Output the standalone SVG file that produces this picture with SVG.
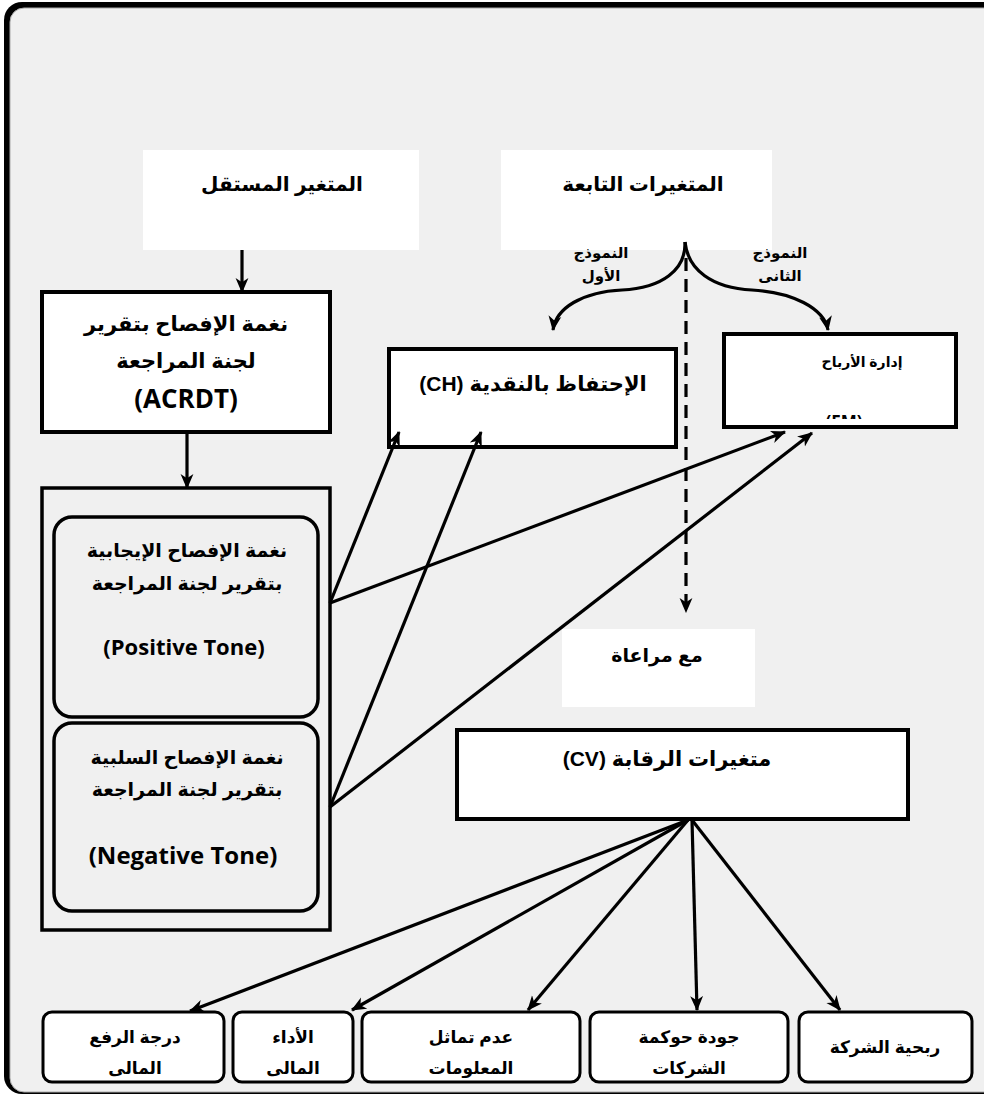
<svg xmlns="http://www.w3.org/2000/svg" width="984" height="1097" viewBox="0 0 984 1097">
<style>
.ar{font-family:"Liberation Sans","DejaVu Sans",sans-serif;font-weight:bold;fill:#000}
.en{font-family:"Open Sans","Liberation Sans",sans-serif;font-weight:bold;fill:#000}
.box{fill:#fff;stroke:#000;stroke-width:4}
.rbox{fill:none;stroke:#000;stroke-width:3.5}
.wbox{fill:#fff;stroke:none}
.bbox{fill:#fff;stroke:#000;stroke-width:3}
.con{fill:none;stroke:#000;stroke-width:3.2}
</style>
<defs>
<marker id="ah" viewBox="0 0 14 14" refX="13" refY="7" markerWidth="15" markerHeight="15" orient="auto" markerUnits="userSpaceOnUse"><path d="M0,1 L14,7 L0,13 L4,7 z" fill="#000"/></marker>
<clipPath id="emclip"><rect x="724" y="334" width="232" height="85"/></clipPath>
</defs>
<g id="frame">
<rect x="4" y="2" width="1000" height="1092" rx="18" fill="#000"/>
<rect x="10" y="8" width="996" height="1084" rx="14" fill="#f0f0f0" stroke="#aaa" stroke-width="1"/>
</g>
<g id="indep-header"><rect class="wbox" x="143" y="150" width="276" height="100"/><text class="ar" x="282" y="191" font-size="20" text-anchor="middle" direction="rtl">المتغير المستقل</text></g>
<g id="dep-header"><rect class="wbox" x="501" y="150" width="271" height="100"/><text class="ar" x="643" y="191" font-size="20" text-anchor="middle" direction="rtl">المتغيرات التابعة</text></g>
<g id="acrdt"><rect class="box" x="42" y="292" width="288" height="140"/>
<text class="ar" x="186" y="331" font-size="21" text-anchor="middle" direction="rtl">نغمة الإفصاح بتقرير</text>
<text class="ar" x="186" y="368" font-size="21" text-anchor="middle" direction="rtl">لجنة المراجعة</text>
<text class="en" x="186" y="408" font-size="26" text-anchor="middle">(ACRDT)</text></g>
<g id="tone-container"><rect class="rbox" x="42" y="488" width="288" height="442"/></g>
<g id="positive"><rect class="rbox" x="54" y="517" width="264" height="200" rx="18"/>
<text class="ar" x="187" y="557" font-size="19" text-anchor="middle" direction="rtl">نغمة الإفصاح الإيجابية</text>
<text class="ar" x="187" y="590" font-size="19" text-anchor="middle" direction="rtl">بتقرير لجنة المراجعة</text>
<text class="en" x="184" y="655" font-size="22" text-anchor="middle">(Positive Tone)</text></g>
<g id="negative"><rect class="rbox" x="54" y="723" width="264" height="188" rx="18"/>
<text class="ar" x="187" y="764" font-size="19" text-anchor="middle" direction="rtl">نغمة الإفصاح السلبية</text>
<text class="ar" x="187" y="796" font-size="19" text-anchor="middle" direction="rtl">بتقرير لجنة المراجعة</text>
<text class="en" x="183" y="864" font-size="24" text-anchor="middle">(Negative Tone)</text></g>
<g id="ch"><rect class="box" x="389" y="349" width="287" height="98"/>
<text class="ar" x="533" y="391" font-size="21" text-anchor="middle" direction="rtl">الإحتفاظ بالنقدية (CH)</text></g>
<g id="em"><rect class="box" x="724" y="334" width="232" height="93"/>
<text class="ar" x="862" y="367" font-size="14" font-weight="normal" text-anchor="middle" direction="rtl">إدارة الأرباح</text>
<text class="en" x="844" y="428" font-size="17" text-anchor="middle" clip-path="url(#emclip)">(EM)</text></g>
<g id="labels">
<text class="ar" x="601" y="258" font-size="15" text-anchor="middle" direction="rtl">النموذج</text>
<text class="ar" x="601" y="281" font-size="15" text-anchor="middle" direction="rtl">الأول</text>
<text class="ar" x="780" y="258" font-size="15" text-anchor="middle" direction="rtl">النموذج</text>
<text class="ar" x="780" y="281" font-size="15" text-anchor="middle" direction="rtl">الثانى</text>
</g>
<g id="consider"><rect class="wbox" x="562" y="629" width="193" height="78"/>
<text class="ar" x="657" y="662" font-size="19" text-anchor="middle" direction="rtl">مع مراعاة</text></g>
<g id="cv"><rect class="box" x="457" y="730" width="451" height="89"/>
<text class="ar" x="667" y="766" font-size="21" text-anchor="middle" direction="rtl">متغيرات الرقابة (CV)</text></g>
<g id="leverage"><rect class="bbox" x="43" y="1012" width="181" height="70" rx="9"/>
<text class="ar" x="135" y="1043" font-size="17" text-anchor="middle" direction="rtl">درجة الرفع</text>
<text class="ar" x="135" y="1074" font-size="17" text-anchor="middle" direction="rtl">المالى</text></g>
<g id="performance"><rect class="bbox" x="233" y="1012" width="120" height="70" rx="9"/>
<text class="ar" x="293" y="1043" font-size="17" text-anchor="middle" direction="rtl">الأداء</text>
<text class="ar" x="293" y="1074" font-size="17" text-anchor="middle" direction="rtl">المالى</text></g>
<g id="asymmetry"><rect class="bbox" x="362" y="1012" width="218" height="70" rx="9"/>
<text class="ar" x="471" y="1043" font-size="17" text-anchor="middle" direction="rtl">عدم تماثل</text>
<text class="ar" x="471" y="1074" font-size="17" text-anchor="middle" direction="rtl">المعلومات</text></g>
<g id="governance"><rect class="bbox" x="590" y="1012" width="198" height="70" rx="9"/>
<text class="ar" x="689" y="1043" font-size="17" text-anchor="middle" direction="rtl">جودة حوكمة</text>
<text class="ar" x="689" y="1074" font-size="17" text-anchor="middle" direction="rtl">الشركات</text></g>
<g id="profitability"><rect class="bbox" x="799" y="1012" width="173" height="70" rx="9"/>
<text class="ar" x="885" y="1053" font-size="17" text-anchor="middle" direction="rtl">ربحية الشركة</text></g>
<g id="connectors">
<line class="con" x1="242" y1="250" x2="242" y2="292" marker-end="url(#ah)"/>
<line class="con" x1="187" y1="432" x2="187" y2="488" marker-end="url(#ah)"/>
<path class="con" d="M685,242 C686,270 662,288 622,290 C582,292 556,308 553,330" marker-end="url(#ah)"/>
<path class="con" d="M685,242 C688,270 712,288 752,290 C792,292 824,308 828,330" marker-end="url(#ah)"/>
<line class="con" x1="686" y1="258" x2="686" y2="612" stroke-dasharray="13,8" marker-end="url(#ah)"/>
<line class="con" x1="330" y1="603" x2="399" y2="432" marker-end="url(#ah)"/>
<line class="con" x1="330" y1="603" x2="785" y2="432" marker-end="url(#ah)"/>
<line class="con" x1="330" y1="807" x2="481" y2="432" marker-end="url(#ah)"/>
<line class="con" x1="330" y1="807" x2="812" y2="433" marker-end="url(#ah)"/>
<line class="con" x1="688" y1="820" x2="190" y2="1011" marker-end="url(#ah)"/>
<line class="con" x1="688" y1="820" x2="352" y2="1010" marker-end="url(#ah)"/>
<line class="con" x1="688" y1="820" x2="528" y2="1010" marker-end="url(#ah)"/>
<line class="con" x1="692" y1="820" x2="697" y2="1010" marker-end="url(#ah)"/>
<line class="con" x1="692" y1="820" x2="840" y2="1010" marker-end="url(#ah)"/>
</g>
</svg>
